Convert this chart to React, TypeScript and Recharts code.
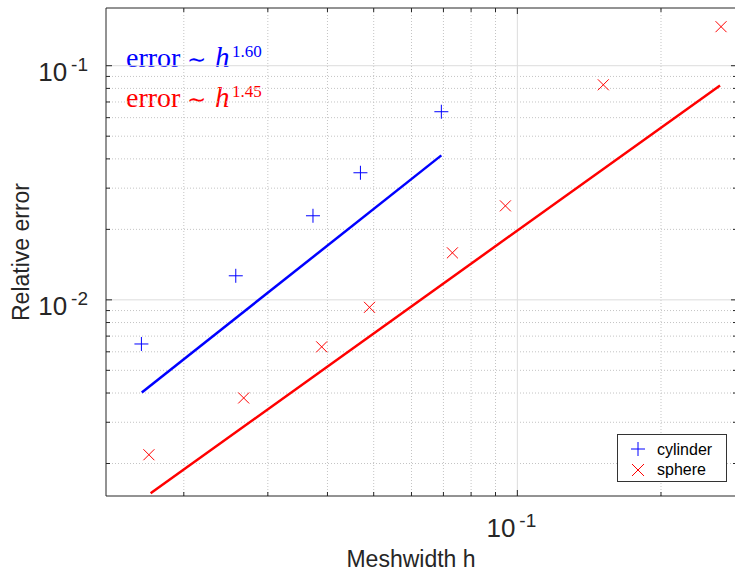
import React from 'react';
import { ComposedChart, Scatter, XAxis, YAxis, ReferenceLine, Legend, Customized } from 'recharts';

const cylinderH = [0.0163, 0.0257, 0.0373, 0.0469, 0.0693];
const cylinderErr = [0.00648, 0.01267, 0.02286, 0.0349, 0.0636];
const sphereH = [0.0169, 0.0267, 0.0389, 0.049, 0.0731, 0.0944, 0.1514, 0.2672];
const sphereErr = [0.00218, 0.00381, 0.0063, 0.00929, 0.01588, 0.0252, 0.0829, 0.1468];

// fitted lines
const cylinderFitH = [0.01633, 0.0693];
const cylinderFitErr = [0.00402, 0.0414];
const sphereFitH = [0.01704, 0.2659];
const sphereFitErr = [0.001493, 0.0824];

const xMajor = [0.1];
const xMinor = [0.02, 0.03, 0.04, 0.05, 0.06, 0.07, 0.08, 0.09, 0.2];
const yMajor = [0.01, 0.1];
const yMinor = [0.002, 0.003, 0.004, 0.005, 0.006, 0.007, 0.008, 0.009, 0.02, 0.03, 0.04, 0.05, 0.06, 0.07, 0.08, 0.09];

const xDomain = [0.01374, 0.2886];
const yDomain = [0.001453, 0.1764];

const axisColor = '#262626';
const sans = '"Liberation Sans", Arial, sans-serif';
const serif = '"Liberation Serif", "Times New Roman", serif';

const toRows = (hs: number[], errs: number[]) => hs.map((h, i) => ({ h, err: errs[i] }));

const cylinderData = toRows(cylinderH, cylinderErr);
const sphereData = toRows(sphereH, sphereErr);
const cylinderFit = toRows(cylinderFitH, cylinderFitErr);
const sphereFit = toRows(sphereFitH, sphereFitErr);

const xTicks = [...xMinor, ...xMajor].sort((a, b) => a - b);
const yTicks = [...yMinor, ...yMajor].sort((a, b) => a - b);

const Plus = ({ cx, cy, color = '#0000ff', s = 7 }: any) => (
  <path d={`M${cx - s},${cy}H${cx + s}M${cx},${cy - s}V${cy + s}`} stroke={color} strokeWidth={1} fill="none" />
);

const Cross = ({ cx, cy, color = '#ff0000', s = 5.5 }: any) => (
  <path d={`M${cx - s},${cy - s}L${cx + s},${cy + s}M${cx - s},${cy + s}L${cx + s},${cy - s}`} stroke={color} strokeWidth={1} fill="none" />
);

const expOf = (v: number) => String(Math.round(Math.log10(v)));

const BottomTick = ({ x, y, payload }: any) => {
  const major = xMajor.includes(payload.value);
  return (
    <g>
      <line x1={x} x2={x} y1={y} y2={y - (major ? 6 : 4)} stroke={axisColor} />
      {major && (
        <text x={x - 6} y={y + 41} textAnchor="middle" fontFamily={sans} fontSize={26} fill={axisColor}>
          10
          <tspan dx={4} dy={-10} fontSize={19}>{expOf(payload.value)}</tspan>
        </text>
      )}
    </g>
  );
};

const TopTick = ({ x, y, payload }: any) => {
  const major = xMajor.includes(payload.value);
  return <line x1={x} x2={x} y1={y} y2={y + (major ? 6 : 4)} stroke={axisColor} />;
};

const LeftTick = ({ x, y, payload }: any) => {
  const major = yMajor.includes(payload.value);
  return (
    <g>
      <line x1={x} x2={x + (major ? 6 : 4)} y1={y} y2={y} stroke={axisColor} />
      {major && (
        <text x={x - 18} y={y + 15} textAnchor="end" fontFamily={sans} fontSize={26} fill={axisColor}>
          10
          <tspan dx={4} dy={-10} fontSize={19}>{expOf(payload.value)}</tspan>
        </text>
      )}
    </g>
  );
};

const RightTick = ({ x, y, payload }: any) => {
  const major = yMajor.includes(payload.value);
  return <line x1={x} x2={x - (major ? 6 : 4)} y1={y} y2={y} stroke={axisColor} />;
};

const legendMarkers: Record<string, (cx: number, cy: number) => React.ReactNode> = {
  cylinder: (cx, cy) => <Plus cx={cx} cy={cy} />,
  sphere: (cx, cy) => <Cross cx={cx} cy={cy} s={6} />,
};

const renderLegend = (props: any) => {
  const items = (props.payload || []).filter((p: any) => legendMarkers[p.value]);
  return (
    <svg width={110} height={48} style={{ display: 'block' }}>
      <rect x={0.5} y={0.5} width={109} height={47} fill="#fff" stroke="#333" strokeWidth={1} />
      {items.map((p: any, i: number) => (
        <g key={p.value}>
          {legendMarkers[p.value](21, 15 + i * 21)}
          <text x={40} y={21 + i * 20} fontFamily={sans} fontSize={16} fill="#000">{p.value}</text>
        </g>
      ))}
    </svg>
  );
};

const Annotation = ({ y, color, exponent }: { y: number; color: string; exponent: string }) => (
  <g fill={color}>
    <text x={126} y={y} fontFamily={serif} fontSize={28}>error</text>
    <text x={187} y={y} fontFamily='"DejaVu Sans", sans-serif' fontSize={23}>∼</text>
    <text x={215} y={y} fontFamily={serif} fontSize={29} fontStyle="italic">h</text>
    <text x={232} y={y - 10} fontFamily={serif} fontSize={17}>{exponent}</text>
  </g>
);

const Decorations = () => (
  <g>
    <Annotation y={67} color="#0000ff" exponent="1.60" />
    <Annotation y={107} color="#ff0000" exponent="1.45" />
    <text x={411} y={567} textAnchor="middle" fontFamily={sans} fontSize={23} fill={axisColor}>Meshwidth h</text>
    <text x={29} y={252} transform="rotate(-90 29 252)" textAnchor="middle" fontFamily={sans} fontSize={23} fill={axisColor}>
      Relative error
    </text>
  </g>
);

export default function App() {
  return (
    <div style={{ position: 'absolute', left: 0, top: 0, width: 735, height: 572, overflow: 'hidden', background: '#fff' }}>
      <ComposedChart width={738} height={572} margin={{ top: 0, right: 0, bottom: 0, left: 0 }}>
        <XAxis
          xAxisId={0}
          dataKey="h"
          type="number"
          scale="log"
          domain={xDomain}
          allowDataOverflow
          ticks={xTicks}
          interval={0}
          height={76}
          tickSize={0}
          tickMargin={0}
          tick={<BottomTick />}
          tickLine={false}
          axisLine={{ stroke: axisColor }}
        />
        <XAxis
          xAxisId="top"
          orientation="top"
          dataKey="h"
          type="number"
          scale="log"
          domain={xDomain}
          allowDataOverflow
          ticks={xTicks}
          interval={0}
          height={8}
          tickSize={0}
          tickMargin={0}
          tick={<TopTick />}
          tickLine={false}
          axisLine={{ stroke: axisColor }}
        />
        <YAxis
          yAxisId={0}
          dataKey="err"
          type="number"
          scale="log"
          domain={yDomain}
          allowDataOverflow
          ticks={yTicks}
          interval={0}
          width={106}
          tickSize={0}
          tickMargin={0}
          tick={<LeftTick />}
          tickLine={false}
          axisLine={{ stroke: axisColor }}
        />
        <YAxis
          yAxisId="right"
          orientation="right"
          dataKey="err"
          type="number"
          scale="log"
          domain={yDomain}
          allowDataOverflow
          ticks={yTicks}
          interval={0}
          width={1}
          tickSize={0}
          tickMargin={0}
          tick={<RightTick />}
          tickLine={false}
          axisLine={{ stroke: axisColor }}
        />

        {xMinor.map((v) => (
          <ReferenceLine key={`xm${v}`} x={v} stroke="#c4c4c4" strokeDasharray="1 2" />
        ))}
        {yMinor.map((v) => (
          <ReferenceLine key={`ym${v}`} y={v} stroke="#c4c4c4" strokeDasharray="1 2" />
        ))}
        {xMajor.map((v) => (
          <ReferenceLine key={`xM${v}`} x={v} stroke="#dcdcdc" />
        ))}
        {yMajor.map((v) => (
          <ReferenceLine key={`yM${v}`} y={v} stroke="#dcdcdc" />
        ))}

        <Scatter
          name="cylinder fit"
          data={cylinderFit}
          line={{ stroke: '#0000ff', strokeWidth: 2.5 }}
          shape={() => <g />}
          legendType="none"
          isAnimationActive={false}
        />
        <Scatter
          name="sphere fit"
          data={sphereFit}
          line={{ stroke: '#ff0000', strokeWidth: 2.5 }}
          shape={() => <g />}
          legendType="none"
          isAnimationActive={false}
        />
        <Scatter
          name="cylinder"
          data={cylinderData}
          fill="#0000ff"
          shape={(p: any) => <Plus cx={p.cx} cy={p.cy} />}
          isAnimationActive={false}
        />
        <Scatter
          name="sphere"
          data={sphereData}
          fill="#ff0000"
          shape={(p: any) => <Cross cx={p.cx} cy={p.cy} />}
          isAnimationActive={false}
        />

        <Legend
          layout="vertical"
          align="center"
          verticalAlign="middle"
          wrapperStyle={{ left: 617, top: 434, width: 110, height: 48 }}
          content={renderLegend}
        />
        <Customized component={Decorations} />
      </ComposedChart>
    </div>
  );
}
